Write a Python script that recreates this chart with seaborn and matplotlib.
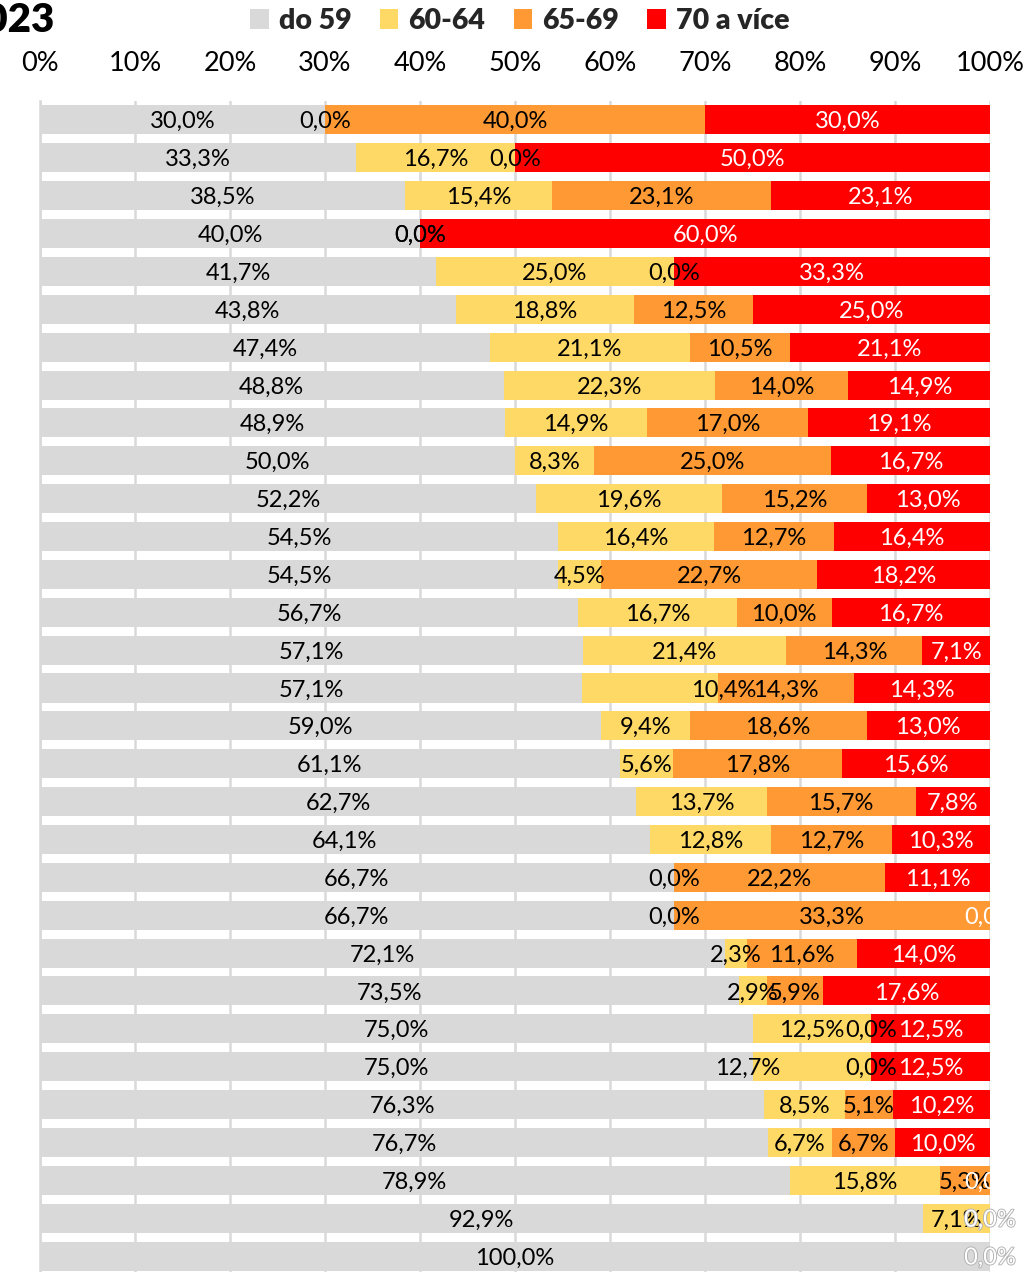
import matplotlib
matplotlib.use("Agg")
import matplotlib.pyplot as plt
import matplotlib.patheffects as pe
from matplotlib.patches import Patch
import numpy as np
import pandas as pd
import seaborn as sns

# ---------------- data ----------------
categories = [str(i) for i in range(1, 32)]
series_names = ["do 59", "60-64", "65-69", "70 a více"]
do59 = [30.0, 33.3, 38.5, 40.0, 41.7, 43.8, 47.4, 48.8, 48.9, 50.0, 52.2, 54.5,
        54.5, 56.7, 57.1, 57.1, 59.0, 61.1, 62.7, 64.1, 66.7, 66.7, 72.1, 73.5,
        75.0, 75.0, 76.3, 76.7, 78.9, 92.9, 100.0]
v60_64 = [0.0, 16.7, 15.4, 0.0, 25.0, 18.8, 21.1, 22.3, 14.9, 8.3, 19.6, 16.4,
          4.5, 16.7, 21.4, 14.3, 9.4, 5.6, 13.7, 12.8, 0.0, 0.0, 2.3, 2.9,
          12.5, 12.5, 8.5, 6.7, 15.8, 7.1, 0.0]
v65_69 = [40.0, 0.0, 23.1, 0.0, 0.0, 12.5, 10.5, 14.0, 17.0, 25.0, 15.2, 12.7,
          22.7, 10.0, 14.3, 14.3, 18.6, 17.8, 15.7, 12.7, 22.2, 33.3, 11.6, 5.9,
          0.0, 0.0, 5.1, 6.7, 5.3, 0.0, 0.0]
v70 = [30.0, 50.0, 23.1, 60.0, 33.3, 25.0, 21.1, 14.9, 19.1, 16.7, 13.0, 16.4,
       18.2, 16.7, 7.1, 14.3, 13.0, 15.6, 7.8, 10.3, 11.1, 0.0, 14.0, 17.6,
       12.5, 12.5, 10.2, 10.0, 0.0, 0.0, 0.0]
tick_values = list(range(0, 101, 10))
tick_labels = [f"{t}%" for t in tick_values]
title_text = "2023"

# labels in the source that differ from the bar value (row, series) -> text
label_text_override = {(15, 1): "10,4%", (25, 1): "12,7%"}
label_x_override = {(15, 1): 72.0, (25, 1): 74.5}
hidden_labels = {(29, 2), (30, 1), (30, 2)}
hollow_labels = {(29, 3), (30, 3)}

colors = ["#d9d9d9", "#ffd966", "#ff9933", "#ff0000"]
text_colors = ["black", "black", "black", "white"]

# ---------------- build frame ----------------
vals = np.array([do59, v60_64, v65_69, v70]).T
totals = vals.sum(axis=1)
cum = np.cumsum(vals, axis=1) / totals[:, None] * 100
df = pd.DataFrame(cum, columns=[f"c{i}" for i in range(4)])
df["category"] = categories

sns.set_style("white")
plt.rcParams["font.family"] = ["Lato", "DejaVu Sans"]

W, H = 1027, 1272
fig = plt.figure(figsize=(W / 100, H / 100), dpi=100)
ax = fig.add_axes([40 / W, -3 / H, 950 / W, (H - 101 + 3) / H])

for i in range(3, -1, -1):
    sns.barplot(data=df, x=f"c{i}", y="category", order=categories, orient="h",
                color=colors[i], saturation=1, width=0.766, errorbar=None,
                linewidth=0, ax=ax)

ax.set_xlim(0, 100)
ax.set_ylim(len(categories) - 0.5, -0.5)
ax.set_xlabel("")
ax.set_ylabel("")
ax.set_xticks(tick_values)
ax.set_xticklabels(tick_labels)
ax.xaxis.tick_top()
ax.tick_params(axis="x", length=0, pad=18, labelsize=19.5, labeltop=True,
               labelbottom=False, colors="black")
ax.tick_params(axis="y", left=False, labelleft=False)
ax.set_axisbelow(True)
ax.grid(axis="x", color="#d9d9d9", linewidth=1.8)
ax.grid(axis="y", visible=False)
for s in ["top", "right", "bottom"]:
    ax.spines[s].set_visible(False)
ax.spines["left"].set_color("#d9d9d9")
ax.spines["left"].set_linewidth(1.8)

# ---------------- data labels ----------------
for r in range(len(categories)):
    start = 0.0
    for s in range(4):
        end = cum[r, s]
        key = (r, s)
        if key in hidden_labels:
            start = end
            continue
        x = label_x_override.get(key, (start + end) / 2)
        txt = label_text_override.get(key, f"{vals[r, s]:.1f}%".replace(".", ","))
        y = r + 0.05
        if key in hollow_labels:
            ax.text(x, y, txt, ha="center", va="center", fontsize=17,
                    color="white", clip_on=False,
                    path_effects=[pe.withStroke(linewidth=1.3, foreground="#b0b0b0")])
        else:
            ax.text(x, y, txt, ha="center", va="center", fontsize=17,
                    color=text_colors[s], clip_on=True)
        start = end

# ---------------- legend & title ----------------
handles = [Patch(facecolor=c, edgecolor="none", label=n) for c, n in zip(colors, series_names)]
fig.legend(handles=handles, loc="center", bbox_to_anchor=(520 / W, 1 - 21 / H), ncol=4,
           frameon=False, prop={"family": "Lato", "weight": "heavy", "size": 20.5},
           handlelength=0.65, handleheight=0.65, handletextpad=0.35,
           columnspacing=1.0, borderaxespad=0, borderpad=0)
fig.text(55 / W, 1 - 21 / H, title_text, ha="right", va="center", fontsize=29,
         fontweight="heavy", color="black")

fig.savefig("out.png", dpi=100)
